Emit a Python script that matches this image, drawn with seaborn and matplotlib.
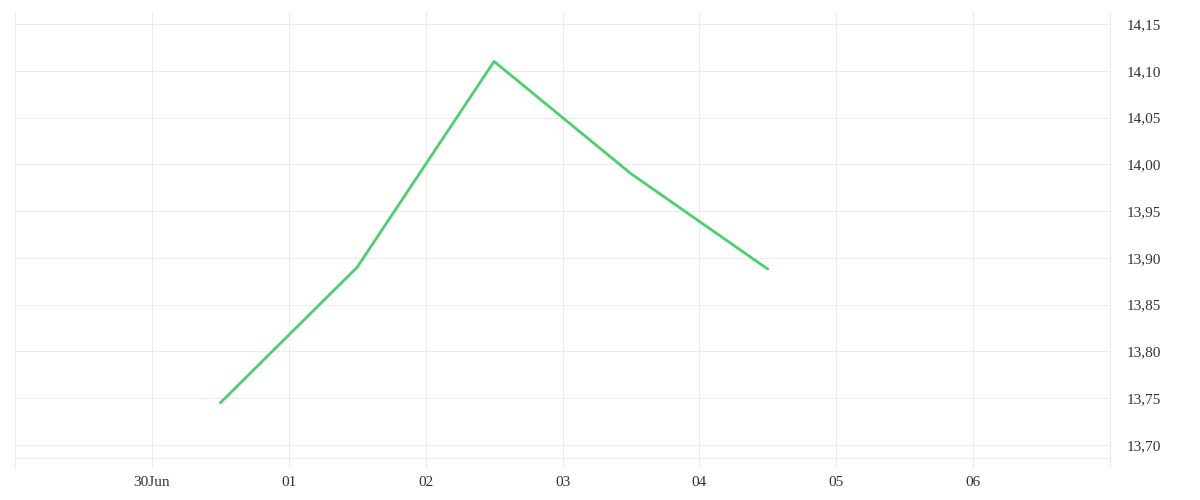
import pandas as pd
import matplotlib.pyplot as plt
import matplotlib.ticker as mticker
import seaborn as sns

# daily values, plotted at noon of each day
dates = ["2023-06-30 12:00", "2023-07-01 12:00", "2023-07-02 12:00",
         "2023-07-03 12:00", "2023-07-04 12:00"]
values = [13.745, 13.89, 14.11, 13.99, 13.888]

tick_dates = ["2023-06-30", "2023-07-01", "2023-07-02", "2023-07-03",
              "2023-07-04", "2023-07-05", "2023-07-06"]
tick_labels = ["30Jun", "01", "02", "03", "04", "05", "06"]
y_ticks = [13.70, 13.75, 13.80, 13.85, 13.90, 13.95, 14.00, 14.05, 14.10, 14.15]

df = pd.DataFrame({"date": pd.to_datetime(dates), "value": values})

sns.set_style("white")
plt.rcParams["font.family"] = ["Liberation Serif", "DejaVu Serif"]

fig = plt.figure(figsize=(12, 5), dpi=100)
ax = fig.add_axes([15 / 1200, 32 / 500, 1095 / 1200, 456 / 500])

sns.lineplot(data=df, x="date", y="value", color="#4cd06e", linewidth=2, ax=ax)

ax.set_xlim(pd.Timestamp("2023-06-29"), pd.Timestamp("2023-07-07"))
ax.set_ylim(13.6754, 14.1628)

ax.set_xticks(pd.to_datetime(tick_dates))
ax.set_xticklabels(tick_labels)
ax.set_yticks(y_ticks)
ax.yaxis.set_major_formatter(mticker.FuncFormatter(lambda v, p: f"{v:.2f}".replace(".", ",")))
ax.yaxis.tick_right()

# light grid, plus the extra line near the bottom
ax.grid(True, color="#ebebeb", linewidth=0.75)
ax.axhline(13.686, color="#ebebeb", linewidth=0.75, zorder=0)
ax.set_axisbelow(True)

for side in ["top", "bottom"]:
    ax.spines[side].set_visible(False)
for side in ["left", "right"]:
    ax.spines[side].set_color("#ebebeb")
    ax.spines[side].set_linewidth(0.75)

ax.tick_params(axis="both", length=0, labelsize=11, colors="#333333")
ax.tick_params(axis="y", pad=12)
ax.tick_params(axis="x", pad=6)
ax.set_xlabel("")
ax.set_ylabel("")

fig.savefig("out.png", dpi=100)
